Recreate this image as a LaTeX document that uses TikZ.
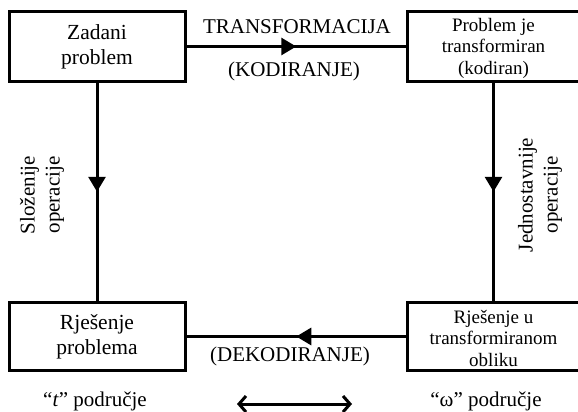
\documentclass[tikz,border=0pt]{standalone}
\usepackage{fontspec}
\setmainfont{Liberation Serif}
\usetikzlibrary{arrows.meta,decorations.markings}
\tikzset{
  box/.style={draw,line width=3pt,inner sep=0pt,align=center},
  bigtxt/.style={font=\fontsize{21.5}{25}\selectfont},
  smalltxt/.style={font=\fontsize{19}{21.5}\selectfont},
  lbl/.style={align=center,inner sep=0pt},
  conn/.style={line width=3pt},
  midarrow/.style={postaction={decorate},decoration={markings,
     mark=at position 0.5 with {\arrow{Triangle[length=15pt,width=17pt]}}}},
}
\begin{document}
\begin{tikzpicture}[x=1pt,y=-1pt,font=\fontsize{21}{25}\selectfont]
\useasboundingbox (0,0) rectangle (578,412);
\begin{scope}
\clip (0,0) rectangle (578,412);
\node[box,bigtxt,minimum width=176pt,minimum height=69pt] (A) at (97,46.5) {Zadani\\problem};
\node[box,minimum width=200pt,minimum height=69pt,anchor=west] (B) at (406,46.5) {};
\node[box,bigtxt,minimum width=176pt,minimum height=68pt] (C) at (97,336.5) {Rješenje\\problema};
\node[box,minimum width=200pt,minimum height=68pt,anchor=west] (D) at (406,336.5) {};
\end{scope}
\node[lbl,smalltxt] (Bt) at (493.5,48) {Problem je\\transformiran\\(kodiran)};
\node[lbl,smalltxt] (Dt) at (493.5,338) {Rješenje u\\transformiranom\\obliku};
\coordinate (bs) at (B.south -| Bt.center);
\coordinate (dn) at (D.north -| Dt.center);
\draw[conn,midarrow] (A.east) -- (B.west);
\draw[conn,midarrow] (D.west) -- (C.east);
\draw[conn,midarrow] (A.south) -- (C.north);
\draw[conn,midarrow] (bs) -- (dn);
\node[lbl] (t1) at (297,27) {TRANSFORMACIJA};
\node[lbl] (t2) at (294,71) {(KODIRANJE)};
\node[lbl] (t3) at (290,356) {(DEKODIRANJE)};
\node[lbl,rotate=90] (v1) at (42,195) {Složenije\\operacije};
\node[lbl,rotate=90] (v2) at (540,195) {Jednostavnije\\operacije};
\node[lbl] (p1) at (95,401) {“\textit{t}” područje};
\node[lbl] (p2) at (486,401) {“ω” područje};
\coordinate (l) at (237,404);
\coordinate (r) at (352,404);
\draw[line width=3pt,{Straight Barb[length=7pt,width=16pt]}-{Straight Barb[length=7pt,width=16pt]}] (l) -- (r);
\end{tikzpicture}
\end{document}
